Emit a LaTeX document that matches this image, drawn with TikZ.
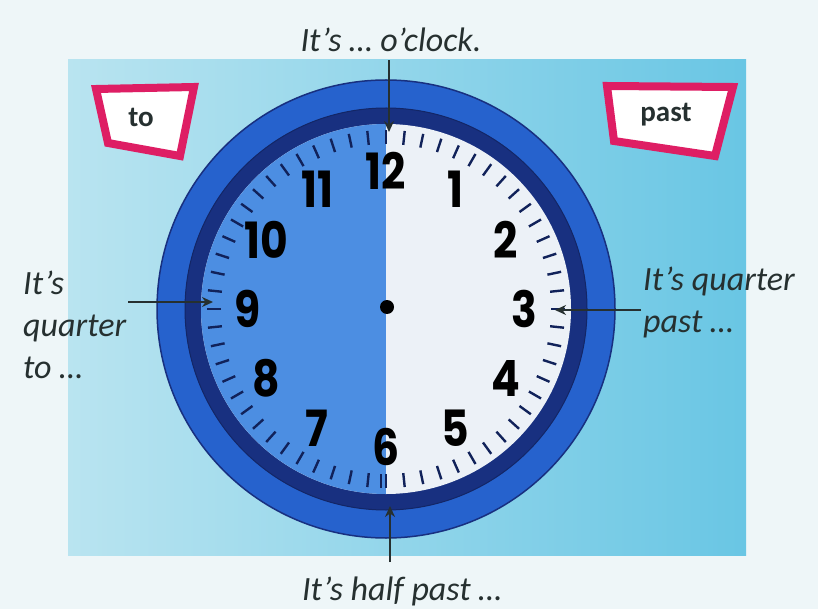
\documentclass[tikz,border=0pt]{standalone}
\usepackage{fontspec}
\setmainfont{Carlito}
\newfontfamily\numfont{Poppins}
\usetikzlibrary{arrows.meta}

\definecolor{bgpale}{RGB}{238,246,248}
\definecolor{bgleft}{RGB}{185,228,240}
\definecolor{bgright}{RGB}{105,198,228}
\definecolor{ringblue}{RGB}{38,98,205}
\definecolor{ringdark}{RGB}{24,48,128}
\definecolor{faceblue}{RGB}{76,142,226}
\definecolor{facewhite}{RGB}{236,241,247}
\definecolor{tagred}{RGB}{222,30,100}
\definecolor{inkgray}{RGB}{38,48,48}

\tikzset{
  say/.style={font=\itshape\fontsize{34}{42}\selectfont, text=inkgray, align=left, inner sep=0pt},
  tagbox/.style={draw=tagred, line width=8pt, fill=white, line join=miter},
  tagword/.style={font=\bfseries\fontsize{29}{29}\selectfont, text=inkgray},
  pointer/.style={draw=inkgray, line width=2pt, -{Stealth[length=11pt,width=10pt]}},
  hournum/.style={font=\numfont\bfseries\fontsize{50}{50}\selectfont, text=black, xscale=0.85},
}

\begin{document}
\begin{tikzpicture}[x=1pt, y=-1pt]
				\useasboundingbox (0,0) rectangle (818,609);
				% 1. 背景 (最底层)
				\fill[bgpale] (0,0) rectangle (818,609);
				\shade[left color=bgleft, right color=bgright] (68,60) rectangle (746,555);
				
				% 2. 表盘外圈与深色内圈
				\filldraw[fill=ringblue, draw=ringdark, line width=1.5pt] (386,309) circle (229);
				\filldraw[fill=ringdark, draw=ringdark!80!black, line width=1pt] (386,309) circle (201);
				
				% 左半蓝、右半白
				\fill[facewhite] (386,309) circle (185);
				\begin{scope}
					\clip (386,309) circle (185);
					\fill[faceblue] (186,100) rectangle (386,520);
				\end{scope}
				
				% 3. 分钟刻度
				\foreach \m in {0,...,59}
					\draw[ringdark!70!black, line width=2.4pt] ({386+165*sin(6*\m)}, {309-165*cos(6*\m)}) -- ({386+179*sin(6*\m)}, {309-179*cos(6*\m)});
				\draw[ringdark!70!black, line width=2.4pt] (381,474) -- (381,488);
				
				% 数字与中心点
				\foreach \h in {1,...,12}
					\node[hournum] (h\h) at ({386+138*sin(30*\h)}, {309-138*cos(30*\h)}) {\h};
				\fill[black] (387,307) circle (7);
				
				% 4. to / past 标签
				\filldraw[tagbox] (96,89) -- (194,87) -- (180,156) -- (108,143) -- cycle;
				\node[tagword] (to) at (141,117) {to};
				\filldraw[tagbox] (607,86) -- (733,87) -- (715,156) -- (614,141) -- cycle;
				\node[tagword] (past) at (666,115) {past};
				
				% 5. 说明文字 (多行时 base 取末行)
				\node[say, anchor=base] (oclock) at (391,52) {It’s … o’clock.};
				\node[say, anchor=base west] (quarterto) at (23,378) {It’s\\quarter\\to …};
				\node[say, anchor=base west] (quarterpast) at (643,332) {It’s quarter\\past …};
				\node[say, anchor=base] (halfpast) at (402,600) {It’s half past …};
				
				% 箭头终点
				\coordinate (tip12) at (389,132);
				\coordinate (tip9) at (213,302);
				\coordinate (tip3) at (555,310);
				\coordinate (tip6) at (390,506);
				
				% 6. 指向表盘的箭头
				\draw[pointer, shorten <=8pt] (oclock.south -| tip12) -- (tip12);
				\draw[pointer, shorten <=2pt] (quarterto.east |- tip9) -- (tip9);
				\draw[pointer, shorten <=2pt] (quarterpast.west |- tip3) -- (tip3);
				\draw[pointer, shorten <=14pt] (halfpast.north -| tip6) -- (tip6);
			\end{tikzpicture}
\end{document}
